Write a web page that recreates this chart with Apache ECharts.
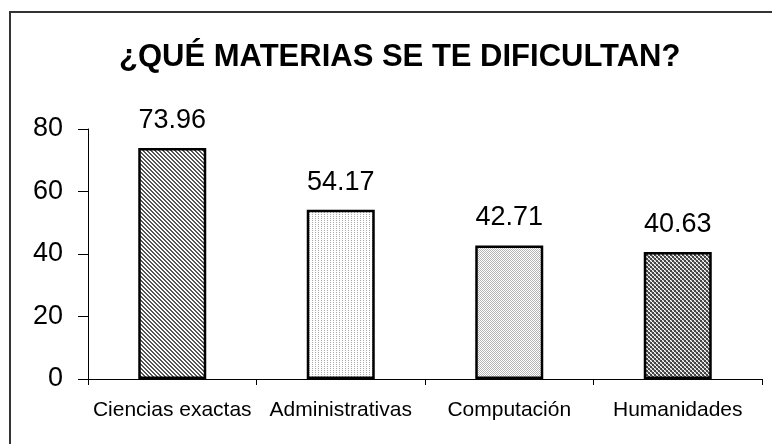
<!DOCTYPE html>
<html>
<head>
<meta charset="utf-8">
<script src="https://cdn.jsdelivr.net/npm/echarts@6/dist/echarts.min.js"></script>
<style>
  html, body { margin: 0; padding: 0; background: #fff; }
  #myChart { width: 772px; height: 444px; }
</style>
</head>
<body>
<div id="myChart"></div>
<script>
// datos
const categorias = ["Ciencias exactas", "Administrativas", "Computación", "Humanidades"];
const porcentajes = [73.96, 54.17, 42.71, 40.63];
const titulo = "¿QUÉ MATERIAS SE TE DIFICULTAN?";

// tramas tipo Excel, hechas a mano en un canvas pequeño
function trama(size, fn) {
  const c = document.createElement("canvas");
  c.width = size; c.height = size;
  const ctx = c.getContext("2d");
  ctx.fillStyle = "#fff";
  ctx.fillRect(0, 0, size, size);
  for (let y = 0; y < size; y++) {
    for (let x = 0; x < size; x++) {
      const col = fn(x, y);
      if (col) { ctx.fillStyle = col; ctx.fillRect(x, y, 1, 1); }
    }
  }
  return { image: c, repeat: "repeat" };
}
const tramas = [
  trama(4, (x, y) => ((x - y + 8) % 4 < 2 ? "#555" : null)),
  trama(6, (x, y) => (x % 3 === 0 && y % 2 === 0 ? "#a8a8a8" : null)),
  trama(4, (x, y) => ((x + y) % 2 === 0 ? "#b4b4b4" : null)),
  trama(4, (x, y) => (((x >> 1) + (y >> 1)) % 2 === 0 ? "#444" : ((x + y) % 2 ? "#aaa" : null)))
];

const fuente = "Liberation Sans, Arial, sans-serif";

let myChart = echarts.init(document.getElementById("myChart"));
myChart.setOption({
  animation: false,
  backgroundColor: "#fff",
  textStyle: { fontFamily: fuente },
  title: {
    text: titulo,
    left: 114,
    top: 37,
    textStyle: { fontSize: 31, fontWeight: "bold", color: "#000", fontFamily: fuente }
  },
  graphic: [{
    type: "rect",
    shape: { x: 10, y: 12, width: 800, height: 500 },
    style: { fill: null, stroke: "#333", lineWidth: 2 },
    silent: true
  }],
  grid: { left: 88, right: 10, top: 129, bottom: 65 },
  xAxis: {
    type: "category",
    data: categorias,
    axisLine: { lineStyle: { color: "#000", width: 1 } },
    axisTick: { show: true, length: 6, lineStyle: { color: "#000" } },
    axisLabel: { color: "#000", fontSize: 21, margin: 21, interval: 0 }
  },
  yAxis: {
    type: "value",
    min: 0,
    max: 80,
    interval: 20,
    splitLine: { show: false },
    axisLine: { show: true, lineStyle: { color: "#000", width: 1 } },
    axisTick: { show: true, length: 10, lineStyle: { color: "#000" } },
    axisLabel: { color: "#000", fontSize: 27, margin: 25 }
  },
  series: [{
    type: "bar",
    barWidth: 68,
    data: porcentajes.map((v, i) => ({
      value: v,
      itemStyle: { color: tramas[i], borderColor: "#000", borderWidth: 2.5 }
    })),
    label: {
      show: true,
      position: "top",
      distance: 14,
      color: "#000",
      fontSize: 27,
      formatter: p => p.value.toFixed(2)
    }
  }]
});
</script>
</body>
</html>
